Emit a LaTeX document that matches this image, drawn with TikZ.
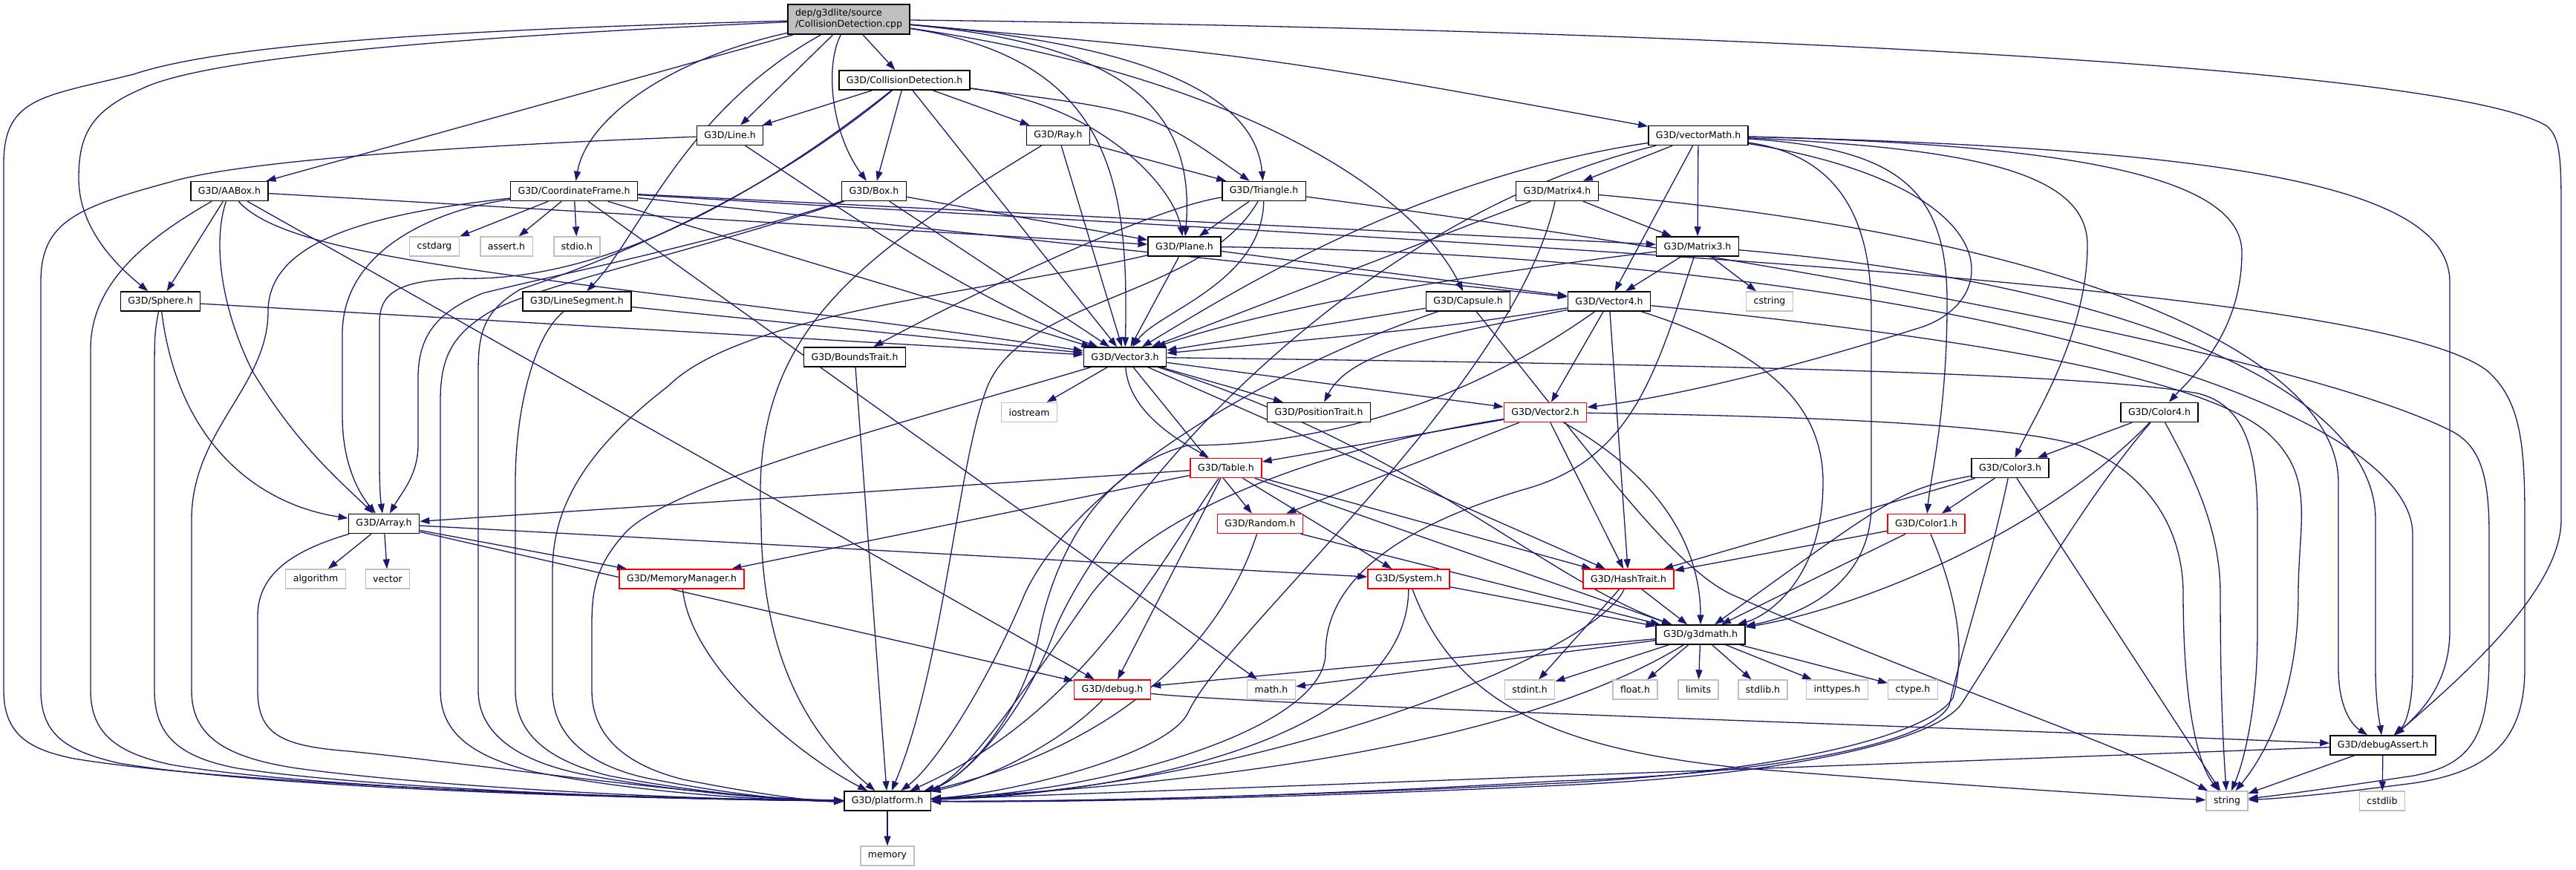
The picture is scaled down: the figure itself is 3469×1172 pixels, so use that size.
\documentclass[tikz,border=0pt]{standalone}
\usepackage{fontspec}
\setmainfont{DejaVu Sans}
\usetikzlibrary{arrows.meta}
\pgfdeclarelayer{bg}
\pgfsetlayers{bg,main}
\definecolor{edgec}{HTML}{191970}
\definecolor{grayc}{HTML}{BFBFBF}
\begin{document}
\begin{tikzpicture}[x=1pt,y=-1pt,
  nb/.style={draw=black, line width=1.5pt, fill=white, minimum height=26pt, inner xsep=10pt, inner ysep=0pt, font=\fontsize{12.5}{15}\selectfont},
  nr/.style={nb, draw=red},
  ng/.style={nb, draw=grayc, line width=1.3pt},
  e/.style={draw=edgec, line width=1.3pt, -{Triangle[length=13pt,width=9pt]}}]
\useasboundingbox (0,0) rectangle (3469,1172);
% ---------------- nodes ----------------
\node[nb, fill=grayc, align=left, minimum height=40pt] (dep) at (1143,26) {dep/g3dlite/source\\/CollisionDetection.cpp};
\node[nb] (cdh) at (1218,108) {G3D/CollisionDetection.h};
\node[nb] (line) at (983,182.5) {G3D/Line.h};
\node[nb] (ray) at (1425,182.5) {G3D/Ray.h};
\node[nb] (vmath) at (2287,182.5) {G3D/vectorMath.h};
\node[nb] (aabox) at (309,257.5) {G3D/AABox.h};
\node[nb] (cf) at (773,257.5) {G3D/CoordinateFrame.h};
\node[nb] (box) at (1177,257.5) {G3D/Box.h};
\node[nb] (tri) at (1702,257.5) {G3D/Triangle.h};
\node[nb] (m4) at (2097,257.5) {G3D/Matrix4.h};
\node[ng] (cstdarg) at (585,332) {cstdarg};
\node[ng] (assert) at (682,332) {assert.h};
\node[ng] (stdio) at (777,332) {stdio.h};
\node[nb] (plane) at (1595,332) {G3D/Plane.h};
\node[nb] (m3) at (2286,332) {G3D/Matrix3.h};
\node[nb] (sphere) at (216,406) {G3D/Sphere.h};
\node[nb] (lseg) at (777,406) {G3D/LineSegment.h};
\node[nb] (capsule) at (1977,406) {G3D/Capsule.h};
\node[nb] (v4) at (2167,406) {G3D/Vector4.h};
\node[ng] (cstring) at (2383,406) {cstring};
\node[nb] (bounds) at (1151,481) {G3D/BoundsTrait.h};
\node[nb] (v3) at (1515,481) {G3D/Vector3.h};
\node[ng] (iostream) at (1386,555.5) {iostream};
\node[nb] (pos) at (1776,555.5) {G3D/PositionTrait.h};
\node[nr] (v2) at (2081,555.5) {G3D/Vector2.h};
\node[nb] (c4) at (2908,555.5) {G3D/Color4.h};
\node[nr] (table) at (1651,630.5) {G3D/Table.h};
\node[nb] (c3) at (2707,630.5) {G3D/Color3.h};
\node[nb] (array) at (517,705.5) {G3D/Array.h};
\node[nr] (random) at (1697,705.5) {G3D/Random.h};
\node[nr] (c1) at (2594,705.5) {G3D/Color1.h};
\node[ng] (algorithm) at (425,780) {algorithm};
\node[ng] (vector) at (522,780) {vector};
\node[nr] (memmgr) at (918,780) {G3D/MemoryManager.h};
\node[nr] (system) at (1897,780) {G3D/System.h};
\node[nr] (hash) at (2193,780) {G3D/HashTrait.h};
\node[nb] (g3dmath) at (2290,855) {G3D/g3dmath.h};
\node[nr] (debug) at (1498,929) {G3D/debug.h};
\node[ng] (mathh) at (1712,929) {math.h};
\node[ng] (stdint) at (2060,929) {stdint.h};
\node[ng] (floath) at (2202,929) {float.h};
\node[ng] (limits) at (2287,929) {limits};
\node[ng] (stdlib) at (2374,929) {stdlib.h};
\node[ng] (inttypes) at (2474,929) {inttypes.h};
\node[ng] (ctype) at (2576,929) {ctype.h};
\node[nb] (dassert) at (3209,1004) {G3D/debugAssert.h};
\node[nb] (platform) at (1195,1079) {G3D/platform.h};
\node[ng] (string) at (2999,1079) {string};
\node[ng] (cstdlib) at (3208,1079) {cstdlib};
\node[ng] (memory) at (1195,1153) {memory};
% ---------------- edges ----------------
\begin{pgfonlayer}{bg}
% from the .cpp file
\draw[e] (dep) -- (cdh);
\draw[e] (dep) -- (line);
\draw[e] (dep) -- (aabox);
\draw[e] (dep) .. controls (1110,90) and (1120,180) .. (box);
\draw[e] (dep) .. controls (900,80) and (790,160) .. (cf);
\draw[e] (dep) .. controls (650,48) and (280,75) .. (190,120) .. controls (120,150) and (106,185) .. (106,240) .. controls (106,310) and (160,360) .. (sphere);
\draw[e] (dep) .. controls (600,40) and (300,60) .. (180,100) .. controls (60,130) and (5,130) .. (5,220) -- (5,930) .. controls (5,990) and (40,1010) .. (100,1022) .. controls (300,1055) and (800,1075) .. (platform);
\draw[e] (dep) .. controls (1520,60) and (1610,150) .. (plane);
\draw[e] (dep) .. controls (1550,60) and (1690,130) .. (tri);
\draw[e] (dep) .. controls (1700,75) .. (vmath);
\draw[e] (dep) .. controls (2300,40) and (3300,90) .. (3430,170) .. controls (3447,185) and (3449,210) .. (3449,280) -- (3449,700) .. controls (3449,790) and (3330,900) .. (dassert);
\draw[e] (dep) .. controls (1500,80) and (1520,250) .. (v3);
\draw[e] (dep) .. controls (1650,100) and (1900,250) .. (capsule);
\draw[e] (dep) .. controls (920,150) and (860,320) .. (lseg);
% CollisionDetection.h
\draw[e] (cdh) -- (line);
\draw[e] (cdh) -- (box);
\draw[e] (cdh) -- (ray);
\draw[e] (cdh) -- (v3);
\draw[e] (cdh) .. controls (1550,150) .. (tri);
\draw[e] (cdh) .. controls (1480,140) and (1580,250) .. (plane);
\draw[e] (cdh) .. controls (1000,280) and (800,380) .. (620,375) .. controls (540,378) and (511,392) .. (511,435) -- (511,620) .. controls (511,650) and (512,670) .. (array);
\draw[e] (cdh) .. controls (1000,290) and (760,370) .. (700,390) .. controls (655,418) and (644,442) .. (644,500) -- (644,930) .. controls (644,990) and (700,1025) .. (780,1042) .. controls (900,1066) and (1050,1078) .. (platform);
% Line, Ray, Box
\draw[e] (line) .. controls (1100,260) and (1300,400) .. (v3);
\draw[e] (line) .. controls (650,195) and (330,215) .. (230,245) .. controls (100,280) and (55,300) .. (55,380) -- (55,930) .. controls (55,990) and (90,1012) .. (160,1028) .. controls (350,1060) and (800,1076) .. (platform);
\draw[e] (ray) -- (v3);
\draw[e] (ray) -- (tri);
\draw[e] (ray) .. controls (1150,350) and (1010,450) .. (1025,700) .. controls (1025,900) and (1100,1000) .. (platform);
\draw[e] (box) -- (v3);
\draw[e] (box) -- (plane);
\draw[e] (box) .. controls (950,330) and (750,370) .. (650,395) .. controls (590,420) and (563,450) .. (563,510) -- (563,600) .. controls (563,640) and (540,665) .. (array);
\draw[e] (box) .. controls (950,335) and (720,385) .. (660,420) .. controls (610,450) and (593,480) .. (593,540) -- (593,930) .. controls (593,990) and (640,1020) .. (720,1040) .. controls (850,1065) and (1000,1078) .. (platform);
% AABox
\draw[e] (aabox) -- (sphere);
\draw[e] (aabox) -- (debug);
\draw[e] (aabox) -- (plane);
\draw[e] (aabox) .. controls (400,360) and (800,375) .. (v3);
\draw[e] (aabox) .. controls (285,330) and (300,420) .. (340,500) .. controls (400,600) and (460,650) .. (array);
\draw[e] (aabox) .. controls (200,320) and (122,380) .. (122,470) -- (122,930) .. controls (122,990) and (160,1015) .. (230,1030) .. controls (400,1060) and (850,1077) .. (platform);
% CoordinateFrame
\draw[e] (cf) -- (cstdarg);
\draw[e] (cf) -- (assert);
\draw[e] (cf) -- (stdio);
\draw[e] (cf) -- (mathh);
\draw[e] (cf) -- (v3);
\draw[e] (cf) -- (m3);
\draw[e] (cf) -- (v4);
\draw[e] (cf) .. controls (600,280) and (461,330) .. (461,450) -- (461,560) .. controls (461,620) and (480,660) .. (array);
\draw[e] (cf) .. controls (480,290) and (361,330) .. (361,420) .. controls (361,520) and (258,580) .. (258,700) -- (258,930) .. controls (258,990) and (300,1020) .. (400,1035) .. controls (600,1062) and (950,1078) .. (platform);
\draw[e] (cf) .. controls (2000,330) and (3200,380) .. (3350,500) .. controls (3395,540) and (3400,600) .. (3400,700) -- (3400,900) .. controls (3400,1000) and (3350,1040) .. (3250,1055) .. controls (3150,1068) and (3080,1075) .. (string);
% Triangle
\draw[e] (tri) -- (plane);
\draw[e] (tri) .. controls (1550,280) and (1300,400) .. (bounds);
\draw[e] (tri) .. controls (1700,380) and (1560,420) .. (v3);
\draw[e] (tri) .. controls (1620,400) and (1380,400) .. (1330,520) .. controls (1290,620) and (1270,900) .. (platform);
\draw[e] (tri) .. controls (2400,350) and (3100,480) .. (3300,580) .. controls (3340,600) and (3352,640) .. (3352,720) -- (3352,880) .. controls (3352,990) and (3330,1030) .. (3250,1045) .. controls (3150,1060) and (3080,1070) .. (string);
% vectorMath
\draw[e] (vmath) -- (m4);
\draw[e] (vmath) -- (m3);
\draw[e] (vmath) -- (v4);
\draw[e] (vmath) .. controls (1900,240) and (1650,400) .. (v3);
\draw[e] (vmath) .. controls (1800,300) and (1480,700) .. (1420,850) .. controls (1380,960) and (1300,1050) .. (platform);
\draw[e] (vmath) .. controls (2700,250) and (2700,400) .. (2590,440) .. controls (2400,500) and (2250,535) .. (v2);
\draw[e] (vmath) .. controls (2800,195) and (3019,240) .. (3019,340) .. controls (3019,450) and (2950,510) .. (c4);
\draw[e] (vmath) .. controls (2650,200) and (2811,230) .. (2811,330) .. controls (2811,450) and (2740,560) .. (c3);
\draw[e] (vmath) .. controls (2550,200) and (2620,250) .. (2622,400) .. controls (2623,550) and (2600,640) .. (c1);
\draw[e] (vmath) .. controls (2480,210) and (2520,300) .. (2520,420) -- (2520,680) .. controls (2520,790) and (2420,830) .. (g3dmath);
\draw[e] (vmath) .. controls (3000,200) and (3299,250) .. (3299,380) -- (3299,850) .. controls (3299,920) and (3260,960) .. (dassert);
% Matrix4 / Matrix3
\draw[e] (m4) -- (m3);
\draw[e] (m4) -- (v3);
\draw[e] (m4) .. controls (2040,520) and (1650,850) .. (1600,960) .. controls (1570,1020) and (1350,1070) .. (platform);
\draw[e] (m4) .. controls (2800,320) and (3149,480) .. (3149,650) -- (3149,900) .. controls (3149,950) and (3165,975) .. (dassert);
\draw[e] (m3) -- (v4);
\draw[e] (m3) -- (cstring);
\draw[e] (m3) .. controls (1900,380) and (1700,420) .. (v3);
\draw[e] (m3) .. controls (2230,500) and (2200,620) .. (2050,660) .. controls (1850,720) and (1785,800) .. (1785,880) .. controls (1785,980) and (1500,1065) .. (platform);
\draw[e] (m3) .. controls (2850,380) and (3199,520) .. (3199,700) -- (3199,900) .. controls (3199,950) and (3205,975) .. (dassert);
% Plane, Sphere, LineSegment, Capsule
\draw[e] (plane) -- (v3);
\draw[e] (plane) -- (v4);
\draw[e] (plane) .. controls (1350,390) and (1000,420) .. (900,520) .. controls (770,620) and (744,700) .. (744,770) -- (744,930) .. controls (744,990) and (790,1030) .. (870,1048) .. controls (980,1070) and (1080,1080) .. (platform);
\draw[e] (plane) .. controls (2600,345) and (3249,540) .. (3249,720) -- (3249,900) .. controls (3249,950) and (3240,975) .. (dassert);
\draw[e] (sphere) -- (v3);
\draw[e] (sphere) .. controls (240,600) and (350,680) .. (array);
\draw[e] (sphere) .. controls (208,450) .. (208,520) -- (208,930) .. controls (208,990) and (240,1020) .. (320,1035) .. controls (500,1062) and (900,1078) .. (platform);
\draw[e] (lseg) -- (v3);
\draw[e] (lseg) .. controls (720,450) and (694,550) .. (694,650) -- (694,930) .. controls (694,990) and (740,1025) .. (820,1045) .. controls (940,1068) and (1060,1079) .. (platform);
\draw[e] (capsule) -- (v3);
\draw[e] (capsule) .. controls (1700,500) and (1450,650) .. (1380,800) .. controls (1330,920) and (1260,1030) .. (platform);
\draw[e] (capsule) .. controls (2150,620) and (2250,760) .. (2330,800) .. controls (2600,920) and (2850,1000) .. (string);
% Vector4
\draw[e] (v4) .. controls (1950,440) .. (v3);
\draw[e] (v4) -- (v2);
\draw[e] (v4) -- (hash);
\draw[e] (v4) .. controls (1950,450) and (1820,470) .. (pos);
\draw[e] (v4) .. controls (2400,480) and (2455,560) .. (2455,650) .. controls (2455,780) and (2380,830) .. (g3dmath);
\draw[e] (v4) .. controls (1950,560) and (1750,600) .. (1600,600) .. controls (1480,630) and (1420,750) .. (1400,850) .. controls (1380,960) and (1300,1050) .. (platform);
\draw[e] (v4) .. controls (2600,450) and (2950,500) .. (3050,580) .. controls (3120,640) and (3095,700) .. (3095,800) .. controls (3095,950) and (3040,1030) .. (string);
% Vector3
\draw[e] (v3) -- (iostream);
\draw[e] (v3) -- (random);
\draw[e] (v3) -- (v2);
\draw[e] (v3) -- (pos);
\draw[e] (v3) -- (hash);
\draw[e] (v3) .. controls (1520,560) and (1600,600) .. (table);
\draw[e] (v3) .. controls (1900,600) and (2080,780) .. (g3dmath);
\draw[e] (v3) .. controls (1250,560) and (900,650) .. (840,720) .. controls (805,760) and (797,790) .. (797,840) -- (797,930) .. controls (797,990) and (840,1030) .. (920,1050) .. controls (1020,1070) and (1100,1080) .. (platform);
\draw[e] (v3) .. controls (2200,490) and (2800,500) .. (2960,530) .. controls (3020,545) and (3040,600) .. (3040,700) -- (3040,850) .. controls (3040,960) and (3020,1030) .. (string);
% Vector2
\draw[e] (v2) -- (table);
\draw[e] (v2) -- (random);
\draw[e] (v2) -- (hash);
\draw[e] (v2) .. controls (2250,650) and (2290,750) .. (g3dmath);
\draw[e] (v2) .. controls (1800,600) and (1560,680) .. (1470,800) .. controls (1400,900) and (1300,1050) .. (platform);
\draw[e] (v2) .. controls (2400,560) and (2700,570) .. (2800,600) .. controls (2900,640) and (2940,720) .. (2940,800) .. controls (2940,950) and (2960,1030) .. (string);
% Colors
\draw[e] (c4) -- (c3);
\draw[e] (c4) .. controls (2750,720) and (2500,820) .. (g3dmath);
\draw[e] (c4) .. controls (2960,650) and (2990,720) .. (2990,800) .. controls (2990,950) and (2995,1020) .. (string);
\draw[e] (c4) .. controls (2800,680) and (2700,860) .. (2640,950) .. controls (2600,1000) and (2400,1045) .. (2100,1058) .. controls (1700,1077) and (1400,1081) .. (platform);
\draw[e] (c3) -- (c1);
\draw[e] (c3) -- (hash);
\draw[e] (c3) .. controls (2560,660) .. (g3dmath);
\draw[e] (c3) -- (string);
\draw[e] (c3) .. controls (2680,760) and (2640,880) .. (2625,950) .. controls (2600,1000) and (2400,1042) .. (2100,1052) .. controls (1700,1076) and (1400,1080) .. (platform);
\draw[e] (c1) -- (hash);
\draw[e] (c1) -- (g3dmath);
\draw[e] (c1) .. controls (2630,790) and (2650,870) .. (2630,940) .. controls (2600,990) and (2400,1040) .. (2100,1055) .. controls (1700,1075) and (1400,1080) .. (platform);
% Table, Array, Random, System, HashTrait
\draw[e] (table) -- (array);
\draw[e] (table) -- (memmgr);
\draw[e] (table) -- (debug);
\draw[e] (table) -- (system);
\draw[e] (table) -- (hash);
\draw[e] (table) -- (g3dmath);
\draw[e] (table) .. controls (1560,760) and (1460,960) .. (platform);
\draw[e] (array) -- (algorithm);
\draw[e] (array) -- (vector);
\draw[e] (array) -- (memmgr);
\draw[e] (array) -- (system);
\draw[e] (array) -- (debug);
\draw[e] (array) .. controls (400,740) and (347,770) .. (347,830) -- (347,930) .. controls (347,990) and (380,1005) .. (470,1012) .. controls (650,1030) and (950,1075) .. (platform);
\draw[e] (random) -- (g3dmath);
\draw[e] (random) .. controls (1660,820) and (1560,990) .. (platform);
\draw[e] (memmgr) .. controls (930,900) and (1080,1020) .. (platform);
\draw[e] (system) -- (g3dmath);
\draw[e] (system) .. controls (1895,1000) and (1500,1070) .. (platform);
\draw[e] (system) .. controls (1960,950) and (2100,1010) .. (2350,1035) .. controls (2600,1055) and (2850,1072) .. (string);
\draw[e] (hash) -- (g3dmath);
\draw[e] (hash) -- (stdint);
\draw[e] (hash) .. controls (2150,880) and (1700,1060) .. (platform);
% g3dmath
\draw[e] (g3dmath) -- (debug);
\draw[e] (g3dmath) -- (mathh);
\draw[e] (g3dmath) -- (stdint);
\draw[e] (g3dmath) -- (floath);
\draw[e] (g3dmath) -- (limits);
\draw[e] (g3dmath) -- (stdlib);
\draw[e] (g3dmath) -- (inttypes);
\draw[e] (g3dmath) -- (ctype);
\draw[e] (g3dmath) .. controls (2150,940) and (1900,1040) .. (platform);
% debug, debugAssert, platform, BoundsTrait
\draw[e] (debug) .. controls (1430,1000) and (1330,1050) .. (platform);
\draw[e] (debug) .. controls (1700,950) and (2500,975) .. (dassert);
\draw[e] (dassert) -- (platform);
\draw[e] (dassert) -- (string);
\draw[e] (dassert) -- (cstdlib);
\draw[e] (bounds) -- (platform);
\draw[e] (platform) -- (memory);
\end{pgfonlayer}
\end{tikzpicture}
\end{document}
